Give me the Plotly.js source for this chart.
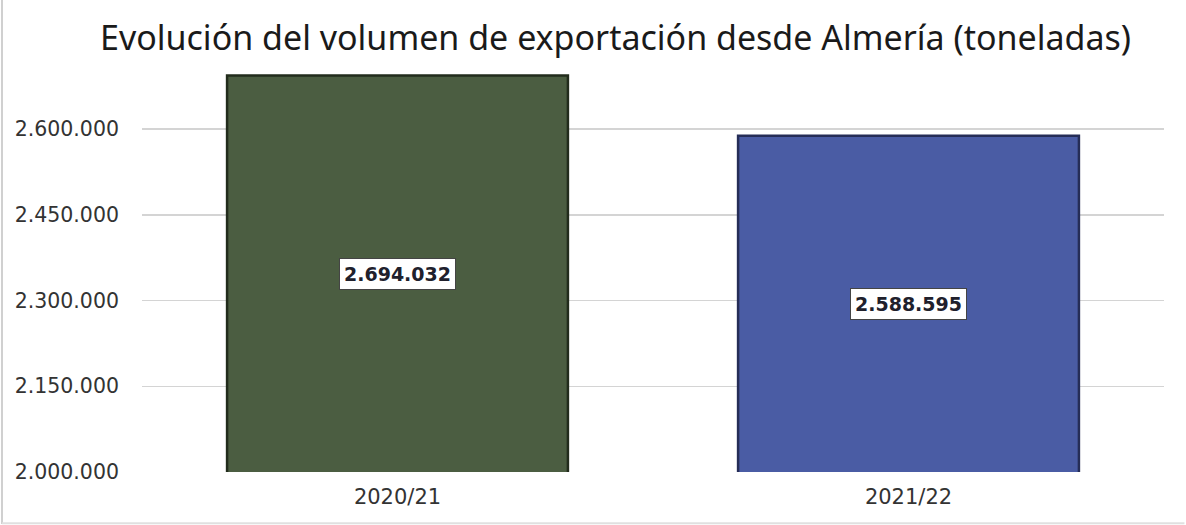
<!DOCTYPE html>
<html>
<head>
<meta charset="utf-8">
<script src="https://cdn.plot.ly/plotly-3.0.1.min.js"></script>
<style>html,body{margin:0;padding:0;background:#fff;}#chart{width:1186px;height:525px;}</style>
</head>
<body>
<div id="chart"></div>
<script>
const categories = ["2020/21", "2021/22"];
const volumes = [2694032, 2588595];
const labels = ["2.694.032", "2.588.595"];
const barColors = ["#4b5d41", "#4a5ca4"];
const barLines = ["#222c1c", "#252d57"];
const yBase = 2000000;

const trace = {
  type: "bar",
  x: categories,
  y: volumes,
  base: 0,
  marker: { color: barColors, line: { color: barLines, width: 2.5 } },
  hoverinfo: "none"
};

const annotations = categories.map((c, i) => ({
  x: c, y: (yBase + volumes[i]) / 2, xref: "x", yref: "y",
  text: labels[i], showarrow: false,
  font: { family: "DejaVu Sans", size: 19, color: "#20202c", weight: "bold" },
  bgcolor: "#ffffff", bordercolor: "#444444", borderwidth: 1, borderpad: 4
}));

const layout = {
  width: 1186, height: 525,
  margin: { l: 142, r: 22, t: 72, b: 53 },
  paper_bgcolor: "#ffffff", plot_bgcolor: "#ffffff",
  separators: ",.",
  bargap: 0.333,
  showlegend: false,
  title: {
    text: "Evolución del volumen de exportación desde Almería (toneladas)",
    font: { family: "Noto Sans", size: 34, color: "#1a1a1a" },
    x: 0.519, xanchor: "center", y: 0.928, yanchor: "middle"
  },
  xaxis: {
    type: "category",
    range: [-0.5, 1.5],
    showgrid: false, zeroline: false, showline: false,
    tickfont: { family: "DejaVu Sans", size: 21, color: "#333333" },
    ticks: "", ticklabelstandoff: 10
  },
  yaxis: {
    range: [2000000, 2700000],
    tick0: 2000000, dtick: 150000,
    tickformat: ",d",
    showgrid: true, gridcolor: "#d4d4d4", gridwidth: 1.5,
    zeroline: false, showline: false,
    tickfont: { family: "DejaVu Sans", size: 20.5, color: "#333333" },
    ticks: "", ticklabelstandoff: 22
  },
  annotations: annotations,
  shapes: [
    { type: "line", xref: "paper", yref: "paper", x0: -0.137, x1: -0.137, y0: -0.13, y1: 1.2, line: { color: "#d0d0d0", width: 2 } },
    { type: "line", xref: "paper", yref: "paper", x0: -0.137, x1: 1.02, y0: -0.128, y1: -0.128, line: { color: "#e0e0e0", width: 2 } }
  ]
};

Plotly.newPlot("chart", [trace], layout, { displayModeBar: false, staticPlot: true });
</script>
</body>
</html>
